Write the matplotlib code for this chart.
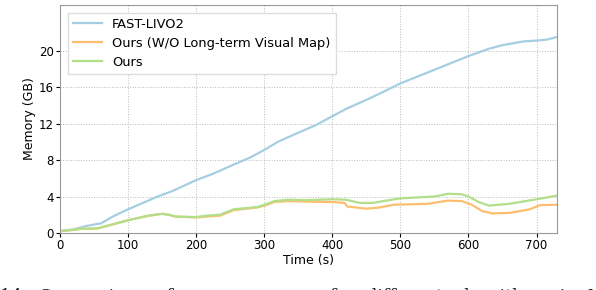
import numpy as np
import matplotlib.pyplot as plt

# data (time in s, memory in GB)
t_fast = [0, 20, 40, 60, 80, 100, 125, 140, 165, 200, 225, 255, 280, 300,
          320, 350, 375, 400, 420, 450, 470, 500, 530, 560, 600, 630, 650,
          680, 700, 715, 730]
m_fast = [0.2, 0.4, 0.8, 1.05, 1.9, 2.6, 3.4, 3.9, 4.6, 5.8, 6.5, 7.5, 8.3,
          9.1, 10.0, 11.0, 11.8, 12.8, 13.6, 14.6, 15.3, 16.4, 17.3, 18.2,
          19.4, 20.2, 20.6, 21.0, 21.1, 21.2, 21.5]

t_ours = [0, 20, 30, 55, 65, 80, 100, 130, 150, 160, 170, 200, 215, 235,
          255, 290, 300, 315, 335, 360, 400, 420, 440, 460, 475, 500, 550,
          570, 590, 600, 615, 630, 660, 700, 730]
m_ours = [0.2, 0.35, 0.45, 0.5, 0.7, 1.0, 1.4, 1.9, 2.1, 2.0, 1.8, 1.75,
          1.9, 2.0, 2.6, 2.85, 3.1, 3.5, 3.65, 3.6, 3.7, 3.65, 3.3, 3.3,
          3.5, 3.8, 4.0, 4.3, 4.25, 4.0, 3.4, 3.0, 3.2, 3.7, 4.1]

t_wo = [0, 20, 30, 55, 65, 80, 100, 130, 150, 160, 170, 200, 215, 235, 255,
        290, 300, 315, 335, 360, 400, 418, 422, 450, 470, 490, 540, 570, 590,
        605, 620, 635, 660, 690, 705, 730]
m_wo = [0.2, 0.35, 0.45, 0.5, 0.7, 1.0, 1.4, 1.9, 2.1, 2.0, 1.8, 1.7, 1.8,
        1.9, 2.5, 2.8, 3.0, 3.4, 3.5, 3.44, 3.4, 3.3, 2.9, 2.67, 2.8, 3.1,
        3.2, 3.55, 3.5, 3.1, 2.4, 2.15, 2.2, 2.6, 3.05, 3.1]

labels = ['FAST-LIVO2', 'Ours (W/O Long-term Visual Map)', 'Ours']
colors = ['#a6cee3', '#fdbf6f', '#b2df8a']

caption = '14.  Comparison  of  memory  usage  for  different  algorithms  in  M'

fig = plt.figure(figsize=(5.96, 2.9), dpi=100)
ax = fig.add_axes([60/596, 1 - 233/290, (557-60)/596, (233-5)/290])

ax.plot(t_fast, m_fast, color=colors[0], lw=1.6, label=labels[0])
ax.plot(t_wo, m_wo, color=colors[1], lw=1.6, label=labels[1])
ax.plot(t_ours, m_ours, color=colors[2], lw=1.6, label=labels[2])

ax.set_xlim(0, 730)
ax.set_ylim(0, 25)
ax.set_yticks([0, 4, 8, 12, 16, 20])
ax.set_xticks(range(0, 701, 100))
ax.grid(True, ls=':', color='#bbbbbb', lw=0.7)
ax.set_xlabel('Time (s)', fontsize=9, labelpad=1)
ax.set_ylabel('Memory (GB)', fontsize=9, labelpad=2)
ax.tick_params(labelsize=8.5, length=3, pad=1.5)
for s in ax.spines.values():
    s.set_color('#999999')

ax.legend(loc='upper left', fontsize=9.4, frameon=True, framealpha=1,
          edgecolor='#dddddd', fancybox=False, handlelength=2.2,
          borderpad=0.4, labelspacing=0.45, borderaxespad=0.6)

# caption of the paper figure, only its tops show above the bottom edge
fig.text(0.0, -0.038, caption, fontsize=12.5, family='DejaVu Serif',
         ha='left', va='baseline', color='#222222')

fig.savefig('out.png', dpi=100)
